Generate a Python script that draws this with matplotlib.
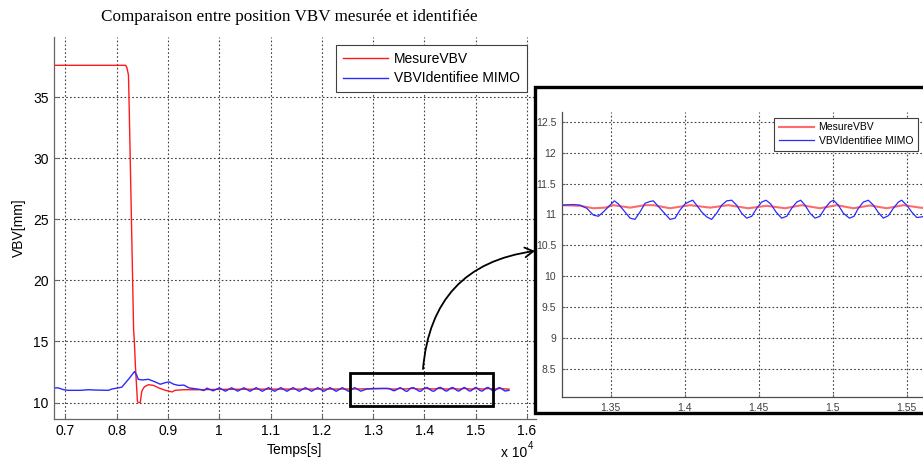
import matplotlib
matplotlib.use("Agg")
import matplotlib.pyplot as plt
from matplotlib.patches import Rectangle, FancyArrowPatch

# ---------------- data (time in units of 1e4 s) ----------------
red_t = [0.6778, 0.8175, 0.8200, 0.8230, 0.8245, 0.8330, 0.8346, 0.8365, 0.8405, 0.8420,
         0.8460, 0.8490, 0.8540, 0.8620, 0.8720, 0.8820, 0.8950, 0.9080, 0.9140, 0.9300,
         0.9600, 1.0000, 1.1000, 1.2000, 1.3000,
         1.3169, 1.3293, 1.3383, 1.3462, 1.3518, 1.3631, 1.3732, 1.3788, 1.3901, 1.4036,
         1.4171, 1.4295, 1.4430, 1.4554, 1.4678, 1.4790, 1.4914, 1.5027, 1.5140, 1.5252,
         1.5365, 1.5478, 1.5590, 1.5650]
red_v = [37.6, 37.6, 37.4, 36.8, 34.0, 16.0, 14.9, 13.0, 10.1, 10.0,
         10.0, 10.93, 11.29, 11.46, 11.40, 11.20, 11.00, 10.87, 11.00, 11.05,
         11.05, 11.08, 11.10, 11.10, 11.12,
         11.15, 11.14, 11.10, 11.11, 11.15, 11.11, 11.15, 11.15, 11.10, 11.15,
         11.11, 11.15, 11.10, 11.14, 11.10, 11.15, 11.10, 11.15, 11.10, 11.145,
         11.10, 11.15, 11.11, 11.10]

blue_t = [0.6778, 0.6860, 0.6950, 0.7050, 0.7300, 0.7450, 0.7600, 0.7840, 0.7900, 0.8000,
          0.8100, 0.8230, 0.8310, 0.8346, 0.8390, 0.8420, 0.8500, 0.8620, 0.8750, 0.8850,
          0.8950, 0.9026, 0.9110, 0.9210, 0.9310, 0.9410, 0.9540, 0.9630,
          0.9700, 0.9760, 0.9880, 1.0000, 1.0120, 1.0240, 1.0360, 1.0480, 1.0600, 1.0720,
          1.0840, 1.0960, 1.1080, 1.1200, 1.1320, 1.1440, 1.1560, 1.1680, 1.1800, 1.1920,
          1.2040, 1.2160, 1.2280, 1.2400, 1.2520, 1.2640, 1.2760, 1.2880, 1.3000,
          1.3169, 1.3248, 1.3293, 1.3338, 1.3383, 1.3417, 1.3450, 1.3496, 1.3525, 1.3552,
          1.3586, 1.3631, 1.3664, 1.3698, 1.3732, 1.3766, 1.3788, 1.3822, 1.3856, 1.3901,
          1.3935, 1.3968, 1.4002, 1.4025, 1.4054, 1.4081, 1.4115, 1.4149, 1.4182, 1.4216,
          1.4250, 1.4284, 1.4318, 1.4351, 1.4385, 1.4419, 1.4453, 1.4487, 1.4520, 1.4550,
          1.4581, 1.4617, 1.4655, 1.4689, 1.4723, 1.4757, 1.4784, 1.4813, 1.4847, 1.4881,
          1.4914, 1.4948, 1.4982, 1.5005, 1.5038, 1.5072, 1.5113, 1.5144, 1.5173, 1.5207,
          1.5241, 1.5275, 1.5309, 1.5342, 1.5376, 1.5410, 1.5444, 1.5466, 1.5500, 1.5534,
          1.5568, 1.5601, 1.5650]
blue_v = [11.20, 11.20, 11.07, 11.00, 11.00, 11.05, 11.02, 11.00, 11.10, 11.18,
          11.26, 11.90, 12.33, 12.53, 12.25, 11.90, 11.85, 11.90, 11.69, 11.50,
          11.63, 11.69, 11.50, 11.40, 11.43, 11.20, 11.12, 11.07,
          10.98, 11.18, 10.96, 11.20, 10.93, 11.21, 10.93, 11.21, 10.92, 11.22,
          10.92, 11.22, 10.92, 11.22, 10.92, 11.22, 10.92, 11.22, 10.92, 11.22,
          10.92, 11.22, 10.92, 11.22, 10.92, 11.22, 10.93, 11.12, 11.15,
          11.15, 11.16, 11.15, 11.10, 10.99, 10.97, 11.04, 11.15, 11.22, 11.17,
          11.07, 10.94, 10.92, 11.04, 11.18, 11.21, 11.22, 11.13, 11.04, 10.92,
          10.94, 11.07, 11.17, 11.20, 11.23, 11.15, 11.04, 10.96, 10.92, 11.02,
          11.15, 11.22, 11.23, 11.15, 11.02, 10.94, 10.97, 11.10, 11.20, 11.23,
          11.17, 11.04, 10.94, 10.97, 11.10, 11.20, 11.23, 11.15, 11.02, 10.94,
          10.97, 11.10, 11.20, 11.23, 11.15, 11.02, 10.94, 10.97, 11.10, 11.20,
          11.23, 11.15, 11.03, 10.94, 10.98, 11.10, 11.20, 11.23, 11.15, 11.04,
          10.95, 10.96, 11.00]

main_xticks = [0.7, 0.8, 0.9, 1.0, 1.1, 1.2, 1.3, 1.4, 1.5, 1.6]
main_xlabels = ["0.7", "0.8", "0.9", "1", "1.1", "1.2", "1.3", "1.4", "1.5", "1.6"]
main_yticks = [10, 15, 20, 25, 30, 35]
inset_xticks = [1.35, 1.40, 1.45, 1.50, 1.55]
inset_xlabels = ["1.35", "1.4", "1.45", "1.5", "1.55"]
inset_yticks = [8.5, 9, 9.5, 10, 10.5, 11, 11.5, 12, 12.5]
inset_ylabels = ["8.5", "9", "9.5", "10", "10.5", "11", "11.5", "12", "12.5"]
series_names = ["MesureVBV", "VBVIdentifiee MIMO"]
zoom_box = (1.255, 9.68, 1.534, 12.45)

# ---------------- figure ----------------
W, H = 923, 461
plt.rcParams['font.family'] = ['Liberation Sans', 'DejaVu Sans']
fig = plt.figure(figsize=(W / 100, H / 100), dpi=100)

def fx(px):
    return px / W

def fy(py):
    return 1 - py / H

grid_kw = dict(color='0.25', linestyle=(0, (1.5, 2.0)), linewidth=0.8)

# main axes
ax = fig.add_axes([fx(54), fy(418.8), (535.7 - 54) / W, (418.8 - 37.2) / H], zorder=0)
ax.plot(red_t, red_v, color='#ff1a1a', lw=1.0, label=series_names[0])
ax.plot(blue_t, blue_v, color='#2a2aff', lw=1.0, label=series_names[1])
ax.set_xlim(0.6778, 1.617)
ax.set_ylim(8.67, 39.9)
ax.set_xticks(main_xticks)
ax.set_xticklabels(main_xlabels)
ax.set_yticks(main_yticks)
ax.grid(True, **grid_kw)
for s in ['top', 'right']:
    ax.spines[s].set_visible(False)
for s in ['left', 'bottom']:
    ax.spines[s].set_color('0.4')
    ax.spines[s].set_linewidth(0.9)
ax.tick_params(direction='in', length=3, labelsize=10, colors='0.4', labelcolor='black', pad=4)
ax.set_xlabel("Temps[s]", fontsize=10, labelpad=3)
ax.set_ylabel("VBV[mm]", fontsize=10, labelpad=5)
leg = ax.legend(loc='upper right', bbox_to_anchor=(fx(527), fy(45)),
                bbox_transform=fig.transFigure, fancybox=False, edgecolor='0.25',
                framealpha=1, fontsize=10, handlelength=3.3, borderpad=0.5,
                labelspacing=0.4, handletextpad=0.4, borderaxespad=0)
leg.get_frame().set_linewidth(0.8)

x0, y0, x1, y1 = zoom_box
ax.add_patch(Rectangle((x0, y0), x1 - x0, y1 - y0, fill=False, edgecolor='black',
                       lw=2.0, zorder=5, clip_on=False))

fig.text(fx(501), fy(453), "x 10", fontsize=10, ha='left', va='center')
fig.text(fx(527.5), fy(446), "4", fontsize=7, ha='left', va='center')

fig.text(fx(289.6), fy(17), "Comparaison entre position VBV mesurée et identifiée",
         fontsize=12.3, family=['Liberation Serif', 'DejaVu Serif'], ha='center', va='center')

# inset frame
frame = Rectangle((fx(535), fy(413)), fx(990) - fx(535), (413 - 87) / H,
                  transform=fig.transFigure, facecolor='white', edgecolor='black',
                  lw=2.4, zorder=1)
fig.add_artist(frame)

# inset axes
ix0, ix1 = 1.3169, 1.57
inset_w = (ix1 - ix0) * 1480
axi = fig.add_axes([fx(561.7), fy(397.3), inset_w / W, (397.3 - 111.7) / H], zorder=2)
axi.plot(red_t, red_v, color='#ff6b6b', lw=1.5, label=series_names[0])
axi.plot(blue_t, blue_v, color='#2a2aff', lw=0.9, label=series_names[1])
axi.set_xlim(ix0, ix1)
axi.set_ylim(8.042, 12.662)
axi.set_xticks(inset_xticks)
axi.set_xticklabels(inset_xlabels)
axi.set_yticks(inset_yticks)
axi.set_yticklabels(inset_ylabels)
axi.grid(True, **grid_kw)
for s in ['top', 'right']:
    axi.spines[s].set_visible(False)
for s in ['left', 'bottom']:
    axi.spines[s].set_color('0.3')
    axi.spines[s].set_linewidth(0.9)
axi.tick_params(direction='in', length=2.5, labelsize=7.5, colors='0.4', labelcolor='0.25', pad=4)
legi = axi.legend(loc='upper right', bbox_to_anchor=(fx(917.7), fy(117.7)),
                  bbox_transform=fig.transFigure, fancybox=False, edgecolor='0.25',
                  framealpha=1, fontsize=7.5, handlelength=3.4, borderpad=0.45,
                  labelspacing=0.35, handletextpad=0.4, borderaxespad=0)
legi.get_frame().set_linewidth(0.8)

# connecting arrow
arrow = FancyArrowPatch(posA=(fx(423), fy(369)), posB=(fx(535), fy(251)),
                        transform=fig.transFigure,
                        arrowstyle='->,head_length=6,head_width=3.5',
                        connectionstyle='arc3,rad=-0.4',
                        color='black', lw=1.3, zorder=3, shrinkA=0, shrinkB=0)
fig.add_artist(arrow)

fig.savefig("out.png", dpi=100)
